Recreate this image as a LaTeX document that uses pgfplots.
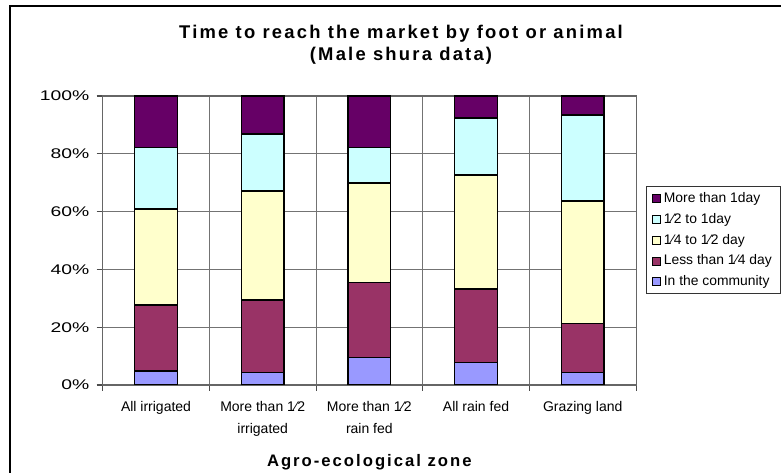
\documentclass[border=0pt]{standalone}
\usepackage{fontspec}
\setmainfont{Liberation Sans}
\newfontfamily\spaced{Liberation Sans}[LetterSpace=12]
\newfontfamily\tickfont{Liberation Sans}[FakeStretch=1.38]
\usepackage{pgfplots}
\pgfplotsset{compat=1.18}

\definecolor{cMore}{HTML}{660066}
\definecolor{cHalf}{HTML}{CCFFFF}
\definecolor{cQuart}{HTML}{FFFFCC}
\definecolor{cLess}{HTML}{993366}
\definecolor{cComm}{HTML}{9999FF}

\pgfplotstableread{
x comm less quart half more
0 4.9 22.8 33.2 21.3 17.8
1 4.4 25.0 37.7 19.8 13.1
2 9.6 25.8 34.5 12.3 17.8
3 7.7 25.5 39.5 19.7 7.6
4 4.4 16.9 42.4 29.8 6.5
}\zonedata

\begin{document}
\begin{tikzpicture}[x=0.75pt,y=0.75pt]
% the plot area's lower left corner is the origin
\useasboundingbox (-102.7,-88) rectangle (678.3,385);
\clip (-102.7,-88) rectangle (678.3,385);
\fill[white] (-102.7,-88) rectangle (678.3,385);
% chart frame
\draw[line width=1.6pt] (-92.7,-110) rectangle (720,379);

\begin{axis}[
  anchor=south west,
  scale only axis,
  width=400pt, height=216.75pt,
  xmin=-0.5, xmax=4.5,
  ymin=0, ymax=100,
  ybar stacked, bar width=0.4,
  xtick={0,1,2,3,4},
  xticklabels={All irrigated,{More than 1⁄2\\irrigated},{More than 1⁄2\\rain fed},All rain fed,Grazing land},
  xticklabel style={align=center, font=\fontsize{10.5}{16}\selectfont, yshift=-4.5pt},
  minor xtick={-0.5,0.5,1.5,2.5,3.5,4.5},
  xminorgrids=true,
  ytick={0,20,40,60,80,100},
  yticklabels={0\%,20\%,40\%,60\%,80\%,100\%},
  yticklabel style={font=\tickfont\fontsize{10.5}{12}\selectfont, xshift=-2pt},
  ymajorgrids=true,
  grid style={black!55, line width=0.6pt},
  minor grid style={black!55, line width=0.6pt},
  axis line style={black!60, line width=0.8pt},
  tick align=outside,
  tick pos=left,
  major x tick style={draw=none},
  major tick length=4.5pt,
  minor tick length=4.5pt,
  tick style={black!70, line width=0.8pt},
  every axis plot/.append style={draw=black, line width=1.1pt},
  reverse legend,
  legend style={at={(1.0187,0.6886)}, anchor=north west,
    draw=black!80, line width=0.6pt,
    font=\fontsize{10.4}{12}\selectfont,
    row sep=2.6pt, inner xsep=4.5pt, inner ysep=2.5pt,
    /tikz/every even column/.append style={column sep=0pt}},
  legend cell align=left,
  legend image code/.code={\draw[#1, line width=0.6pt] (0pt,-3pt) rectangle (6pt,3pt);},
]
\addplot[fill=cComm]  table[x=x,y=comm]  {\zonedata};
\addplot[fill=cLess]  table[x=x,y=less]  {\zonedata};
\addplot[fill=cQuart] table[x=x,y=quart] {\zonedata};
\addplot[fill=cHalf]  table[x=x,y=half]  {\zonedata};
\addplot[fill=cMore]  table[x=x,y=more]  {\zonedata};
\legend{In the community,Less than 1⁄4 day,1⁄4 to 1⁄2 day,1⁄2 to 1day,More than 1day}
\end{axis}

% titles
\node[font=\spaced\bfseries\fontsize{13.8}{16}\selectfont] at (298.3,351) {Time to reach the market by foot or animal};
\node[font=\spaced\bfseries\fontsize{13.8}{16}\selectfont] at (298.3,329) {(Male shura data)};
\node[font=\spaced\bfseries\fontsize{12.5}{15}\selectfont] at (266.6,-77) {Agro-ecological zone};
\end{tikzpicture}
\end{document}
